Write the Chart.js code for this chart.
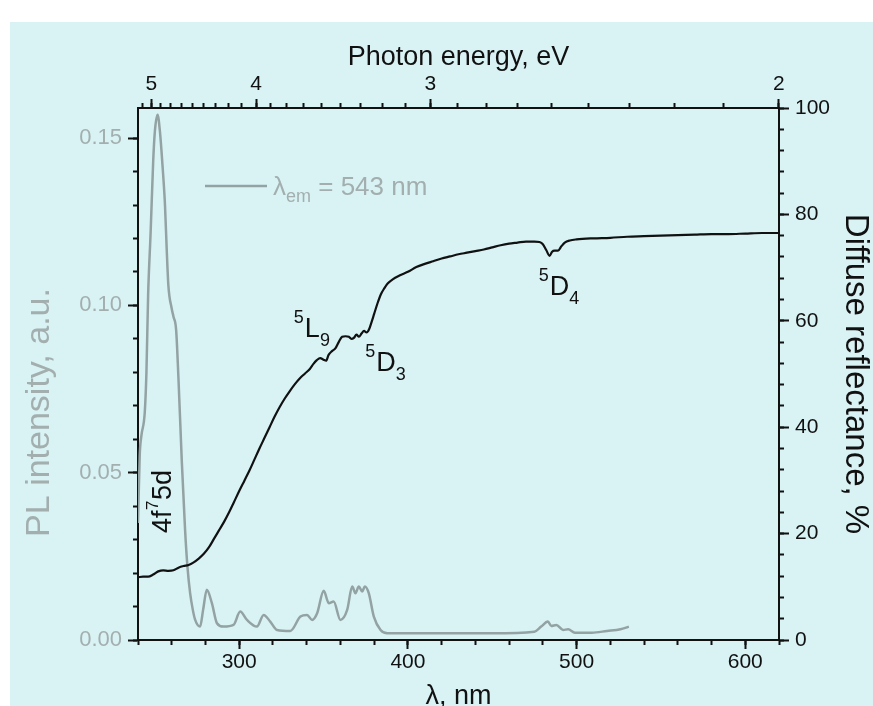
<!DOCTYPE html>
<html>
<head>
<meta charset="utf-8">
<script src="https://cdn.jsdelivr.net/npm/chart.js@4.4.1/dist/chart.umd.min.js"></script>
<style>
  html, body { margin: 0; padding: 0; background: #fff; overflow: hidden; }
  canvas { display: block; }
</style>
</head>
<body>
<canvas id="c" width="873" height="706"></canvas>
<script>
// Wavelength axis (nm)
const lambdaRange = [240, 620];
const lambdaTicks = [300, 400, 500, 600];
const lambdaMinorStep = 20;

// Photon energy axis (eV), placed on the wavelength scale through E = hc / λ
const HC = 1239.84;
const energyTicks = [5, 4, 3, 2];
const energyMinorPerMajor = 9;

// Left axis: PL excitation intensity
const plRange = [0, 0.159];
const plTicks = [0.00, 0.05, 0.10, 0.15];
const plMinorStep = 0.01;

// Right axis: diffuse reflectance
const drRange = [0, 100];
const drTicks = [0, 20, 40, 60, 80, 100];
const drMinorStep = 4;

// Diffuse reflectance spectrum, %
const drWavelength = [240, 243, 246, 249, 252, 255, 258, 261, 264, 267, 270, 273, 276, 279, 282, 285, 288, 291, 294, 297,
  300, 303, 306, 309, 312, 315, 318, 321, 324, 327, 330, 333, 336, 339, 342, 344, 346, 348, 350, 351.5,
  353, 355, 357, 359, 361, 363, 365, 366.5, 368, 369.5, 371, 372.5, 374, 375.5, 377, 378.5, 380, 382, 384, 386,
  388, 391, 395, 400, 405, 410, 415, 420, 425, 430, 435, 440, 445, 450, 455, 460, 465, 470, 475, 478,
  480, 482, 484, 485.5, 487, 489, 491, 493, 496, 500, 510, 520, 530, 540, 550, 560, 570, 580, 590, 600, 610, 620];
const drValue = [11.8, 11.9, 11.9, 12.3, 12.9, 13.1, 13.0, 13.1, 13.6, 13.9, 14.1, 14.6, 15.3, 16.2, 17.4, 19.0, 20.6, 22.2, 24.0, 26.0,
  28.0, 29.9, 31.8, 33.9, 36.0, 38.0, 40.0, 42.0, 43.8, 45.4, 46.8, 48.1, 49.2, 50.1, 51.0, 51.9, 52.6, 53.0, 52.7, 52.5,
  53.6, 54.3, 54.8, 56.0, 57.0, 57.1, 57.0, 56.6, 56.8, 57.4, 57.0, 57.6, 58.1, 57.8, 58.4, 59.8, 61.3, 63.3, 65.0, 66.1,
  67.0, 67.8, 68.5, 69.2, 70.1, 70.7, 71.2, 71.7, 72.1, 72.5, 72.8, 73.1, 73.4, 73.8, 74.2, 74.5, 74.7, 74.9, 74.9, 74.8,
  74.4, 73.3, 72.2, 73.0, 73.2, 73.2, 74.0, 74.7, 75.1, 75.3, 75.5, 75.6, 75.8, 75.9, 76.0, 76.1, 76.2, 76.3, 76.3, 76.4, 76.5, 76.5];

// PL excitation spectrum, emission monitored at 543 nm
const plWavelength = [240, 241, 242, 244, 245, 246, 247.5, 249, 250, 251.6, 253, 254.5, 256, 257, 258, 260, 261, 262.6, 264, 266,
  267.9, 269.3, 270.9, 272.5, 273.9, 276.8, 278.6, 280.8, 283.8, 286.8, 290.7, 296.6, 300.6, 304.6, 310.5, 314.5, 318.4, 322.4, 330.3, 336.3,
  340.2, 343.2, 346.2, 350.1, 353.1, 356.0, 360.0, 364.0, 367.0, 368.9, 370.9, 372.9, 374.5, 376.8, 379.8, 383.8, 387.8, 400, 425, 450,
  475, 479, 483, 485, 488, 492, 495, 499, 509, 518, 526, 531];
const plValue = [0.035, 0.055, 0.061, 0.068, 0.080, 0.103, 0.122, 0.143, 0.152, 0.157, 0.152, 0.142, 0.130, 0.117, 0.106, 0.099, 0.0967, 0.0927, 0.078, 0.053,
  0.033, 0.022, 0.014, 0.009, 0.006, 0.004, 0.009, 0.015, 0.011, 0.005, 0.004, 0.0045, 0.0085, 0.006, 0.004, 0.0075, 0.0055, 0.003, 0.0027, 0.007,
  0.0075, 0.006, 0.008, 0.0147, 0.011, 0.0115, 0.006, 0.009, 0.016, 0.014, 0.016, 0.0145, 0.016, 0.014, 0.007, 0.003, 0.002, 0.002, 0.002, 0.002,
  0.0025, 0.004, 0.0055, 0.0042, 0.0045, 0.003, 0.0032, 0.0022, 0.0022, 0.0027, 0.0032, 0.004];

const FONT = '"Liberation Sans", Arial, Helvetica, sans-serif';
const PL_GREY = '#93a2a2';
const LABEL_GREY = '#a3afaf';
const PANEL = '#d9f3f5';

function stepList(lo, hi, step) {
  const out = [];
  const n = Math.round((hi - lo) / step);
  for (let i = 0; i <= n; i++) out.push(+(lo + i * step).toFixed(6));
  return out;
}
function setTicks(values) {
  return scale => { scale.ticks = values.map(v => ({ value: v })); };
}
function fixWidth(w) { return scale => { scale.width = w; }; }
function fixHeight(h) { return scale => { scale.height = h; }; }

const energyMinor = [];
for (let k = -1; k <= (energyTicks[0] - energyTicks[energyTicks.length - 1]) * energyMinorPerMajor; k++) {
  const e = energyTicks[0] - k / energyMinorPerMajor;
  const l = HC / e;
  if (l >= lambdaRange[0] && l <= lambdaRange[1] + 0.5) energyMinor.push(l);
}

const majorGrid = len => ({ drawOnChartArea: false, drawTicks: true, tickLength: len, tickWidth: 2, tickColor: '#111', color: '#111' });
const axisBorder = { display: true, color: '#111', width: 2 };

// Panel background
const panelPlugin = {
  id: 'panel',
  beforeDraw(chart) {
    const { ctx, width, height } = chart;
    ctx.save();
    ctx.fillStyle = '#ffffff';
    ctx.fillRect(0, 0, width, height);
    ctx.fillStyle = PANEL;
    ctx.fillRect(10, 22, width - 10, height - 22);
    ctx.restore();
  }
};

function drawRuns(ctx, x, y, runs, rotate) {
  ctx.save();
  ctx.translate(x, y);
  if (rotate) ctx.rotate(-Math.PI / 2);
  ctx.textAlign = 'left';
  ctx.textBaseline = 'alphabetic';
  let cx = 0;
  for (const r of runs) {
    ctx.font = r.size + 'px ' + FONT;
    ctx.fillStyle = r.color;
    ctx.fillText(r.text, cx, r.dy || 0);
    cx += ctx.measureText(r.text).width + (r.gap || 0);
  }
  ctx.restore();
}

// Left axis title, term symbols and legend
const notesPlugin = {
  id: 'notes',
  afterDraw(chart) {
    const { ctx, chartArea } = chart;
    const xs = chart.scales.x, yr = chart.scales.yR, yl = chart.scales.yL;
    const px = v => xs.getPixelForValue(v), py = v => yr.getPixelForValue(v);

    ctx.save();
    ctx.translate(40, yl.getPixelForValue(0.068));
    ctx.rotate(-Math.PI / 2);
    ctx.font = '34px ' + FONT;
    ctx.fillStyle = LABEL_GREY;
    ctx.textAlign = 'center';
    ctx.textBaseline = 'middle';
    ctx.fillText('PL intensity, a.u.', 0, 0);
    ctx.restore();

    const term = (sup, main, sub) => [
      { text: sup, size: 18, dy: -14, color: '#111', gap: 1 },
      { text: main, size: 27, color: '#111' },
      { text: sub, size: 18, dy: 9, color: '#111' }
    ];
    drawRuns(ctx, px(332.4), py(57.0), term('5', 'L', '9'));
    drawRuns(ctx, px(374.7), py(50.6), term('5', 'D', '3'));
    drawRuns(ctx, px(477.5), py(64.8), term('5', 'D', '4'));
    drawRuns(ctx, px(259.6), py(20.1), [
      { text: '4f', size: 27, color: '#111', gap: 0.5 },
      { text: '7', size: 17, dy: -13, color: '#111', gap: 0.5 },
      { text: '5d', size: 27, color: '#111' }
    ], true);

    // legend
    const lx = chartArea.left + 67, ly = chartArea.top + 78;
    ctx.save();
    ctx.strokeStyle = PL_GREY;
    ctx.lineWidth = 2.5;
    ctx.beginPath();
    ctx.moveTo(lx, ly);
    ctx.lineTo(lx + 62, ly);
    ctx.stroke();
    ctx.restore();
    drawRuns(ctx, lx + 68, ly + 9, [
      { text: 'λ', size: 26, color: LABEL_GREY },
      { text: 'em', size: 18, dy: 7, color: LABEL_GREY },
      { text: ' = 543 nm', size: 26, color: LABEL_GREY }
    ]);
  }
};

const chart = new Chart(document.getElementById('c'), {
  type: 'line',
  data: {
    datasets: [
      {
        label: 'Diffuse reflectance',
        data: drWavelength.map((l, i) => ({ x: l, y: drValue[i] })),
        xAxisID: 'x', yAxisID: 'yR',
        borderColor: '#111', borderWidth: 2.2,
        pointRadius: 0, cubicInterpolationMode: 'monotone'
      },
      {
        label: 'PL excitation, λem = 543 nm',
        data: plWavelength.map((l, i) => ({ x: l, y: plValue[i] })),
        xAxisID: 'x', yAxisID: 'yL',
        borderColor: PL_GREY, borderWidth: 2.5,
        pointRadius: 0, cubicInterpolationMode: 'monotone'
      }
    ]
  },
  options: {
    responsive: false,
    animation: false,
    devicePixelRatio: 1,
    layout: { padding: 0 },
    plugins: { legend: { display: false }, tooltip: { enabled: false } },
    scales: {
      x: {
        type: 'linear', position: 'bottom', weight: 1, bounds: 'data',
        min: lambdaRange[0], max: lambdaRange[1],
        afterBuildTicks: setTicks(lambdaTicks), afterFit: fixHeight(66),
        grid: majorGrid(9), border: axisBorder,
        ticks: { autoSkip: false, maxRotation: 0, padding: 1, color: '#111', font: { family: FONT, size: 21 } },
        title: { display: true, text: 'λ, nm', color: '#111', font: { family: FONT, size: 27, lineHeight: 1 }, padding: { top: 0, bottom: -4 } }
      },
      xMinor: {
        type: 'linear', position: 'bottom', weight: 0, bounds: 'data',
        min: lambdaRange[0], max: lambdaRange[1],
        afterBuildTicks: setTicks(stepList(lambdaRange[0], lambdaRange[1], lambdaMinorStep)), afterFit: fixHeight(0),
        grid: majorGrid(5), border: { display: false },
        ticks: { display: false, autoSkip: false }
      },
      xE: {
        type: 'linear', position: 'top', weight: 1, bounds: 'data',
        min: lambdaRange[0], max: lambdaRange[1],
        afterBuildTicks: setTicks(energyTicks.map(e => HC / e)), afterFit: fixHeight(108),
        grid: majorGrid(9), border: axisBorder,
        ticks: {
          autoSkip: false, maxRotation: 0, padding: 2, color: '#111', font: { family: FONT, size: 21 },
          callback: (v, i) => String(energyTicks[i])
        },
        title: { display: true, text: 'Photon energy, eV', color: '#111', font: { family: FONT, size: 27 }, padding: { top: 41, bottom: 0 } }
      },
      xEMinor: {
        type: 'linear', position: 'top', weight: 0, bounds: 'data',
        min: lambdaRange[0], max: lambdaRange[1],
        afterBuildTicks: setTicks(energyMinor), afterFit: fixHeight(0),
        grid: majorGrid(5), border: { display: false },
        ticks: { display: false, autoSkip: false }
      },
      yL: {
        type: 'linear', position: 'left', weight: 1, bounds: 'data',
        min: plRange[0], max: plRange[1],
        afterBuildTicks: setTicks(plTicks), afterFit: fixWidth(138),
        grid: majorGrid(10), border: axisBorder,
        ticks: {
          autoSkip: false, padding: 6, color: LABEL_GREY, font: { family: FONT, size: 22 },
          callback: v => v.toFixed(2)
        },
        title: { display: false }
      },
      yLMinor: {
        type: 'linear', position: 'left', weight: 0, bounds: 'data',
        min: plRange[0], max: plRange[1],
        afterBuildTicks: setTicks(stepList(0, 0.15, plMinorStep)), afterFit: fixWidth(0),
        grid: majorGrid(5), border: { display: false },
        ticks: { display: false, autoSkip: false }
      },
      yR: {
        type: 'linear', position: 'right', weight: 1, bounds: 'data',
        min: drRange[0], max: drRange[1],
        afterBuildTicks: setTicks(drTicks), afterFit: fixWidth(94),
        grid: majorGrid(10), border: axisBorder,
        ticks: { autoSkip: false, padding: 6, color: '#111', font: { family: FONT, size: 21 } },
        title: { display: true, text: 'Diffuse reflectance, %', color: '#111', font: { family: FONT, size: 33, lineHeight: 1 }, padding: { top: 1, bottom: 0 } }
      },
      yRMinor: {
        type: 'linear', position: 'right', weight: 0, bounds: 'data',
        min: drRange[0], max: drRange[1],
        afterBuildTicks: setTicks(stepList(drRange[0], drRange[1], drMinorStep)), afterFit: fixWidth(0),
        grid: majorGrid(5), border: { display: false },
        ticks: { display: false, autoSkip: false }
      }
    }
  },
  plugins: [panelPlugin, notesPlugin]
});
</script>
</body>
</html>
